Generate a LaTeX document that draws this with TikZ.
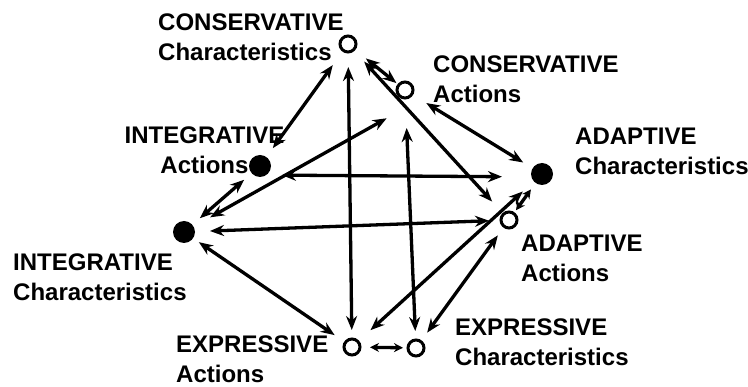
\documentclass[tikz,border=0pt]{standalone}
\usepackage{fontspec}
\setmainfont{Liberation Sans}
\usetikzlibrary{arrows.meta}
\tikzstyle{opendot} = [circle, draw=black, line width=3pt, minimum size=16pt, inner sep=0pt, outer sep=0pt]
\tikzstyle{fulldot} = [circle, fill=black, minimum size=22pt, inner sep=0pt, outer sep=0pt]
\tikzstyle{tag} = [font=\bfseries\fontsize{24}{30}\selectfont, align=left, anchor=west, inner sep=0pt]
\tikzstyle{link} = [line width=3.3pt, <->, >={Stealth[length=14pt,width=11pt]}, shorten <=12pt, shorten >=12pt]

\begin{document}
\begin{tikzpicture}[x=1pt, y=-1pt]
\useasboundingbox (0,0) rectangle (748,387);
% Dots
\node (cc) [opendot] at (348,44) {};
\node (ca) [opendot] at (405,90) {};
\node (ia) [fulldot] at (260,166) {};
\node (ic) [fulldot] at (184,232) {};
\node (ac) [fulldot] at (542,174) {};
\node (aa) [opendot] at (509,220) {};
\node (ea) [opendot] at (352,347) {};
\node (ec) [opendot] at (416,348) {};

% Labels
\node (cctag) [tag] at (158,37) {CONSERVATIVE\\Characteristics};
\node (catag) [tag] at (433,79) {CONSERVATIVE\\Actions};
\node (iatag) [tag, align=center, anchor=center] at (204.5,150) {INTEGRATIVE\\Actions};
\node (ictag) [tag] at (13,277) {INTEGRATIVE\\Characteristics};
\node (actag) [tag] at (575,151) {ADAPTIVE\\Characteristics};
\node (aatag) [tag] at (521,258) {ADAPTIVE\\Actions};
\node (ectag) [tag] at (455,342) {EXPRESSIVE\\Characteristics};
\node (eatag) [tag] at (176,359) {EXPRESSIVE\\Actions};

% Arrows
\draw [link, shorten <=18pt, shorten >=11pt] (cc) -- (ia);
\draw [link, shorten <=15pt, shorten >=9pt] (cc) -- (ea);
\draw [link, shorten <=16pt, shorten >=17pt] (cc) -- (aa);
\draw [link, shorten <=15pt, shorten >=3pt] (cc) -- (ca);
\draw [link, shorten <=17pt, shorten >=11pt] (ca) -- (ac);
\draw [link, shorten <=21pt, shorten >=30pt] ([yshift=-18pt]ca.center) -- (ic.center);
\draw [link, shorten <=30pt, shorten >=9pt] (ca) -- (ec);
\draw [link, shorten <=10pt, shorten >=10pt] (ia) -- (ic);
\draw [link, shorten <=22pt, shorten >=40pt] ([yshift=-9pt]ia.center) -- ([yshift=-3pt]ac.center);
\draw [link, shorten <=15pt, shorten >=12pt] (ic) -- (aa);
\draw [link, shorten <=7pt, shorten >=13pt] (ic) -- (ea);
\draw [link, shorten <=17pt, shorten >=15pt] (ea) -- (ac);
\draw [link, >={Stealth[length=9pt,width=9pt]}, shorten <=10pt, shorten >=5pt] (ea) -- (ec);
\draw [link, shorten <=11pt, shorten >=11pt] (ec) -- (aa);
\draw [link, >={Stealth[length=9pt,width=9pt]}, shorten <=4pt, shorten >=8pt] (aa) -- (ac);

\end{tikzpicture}
\end{document}
